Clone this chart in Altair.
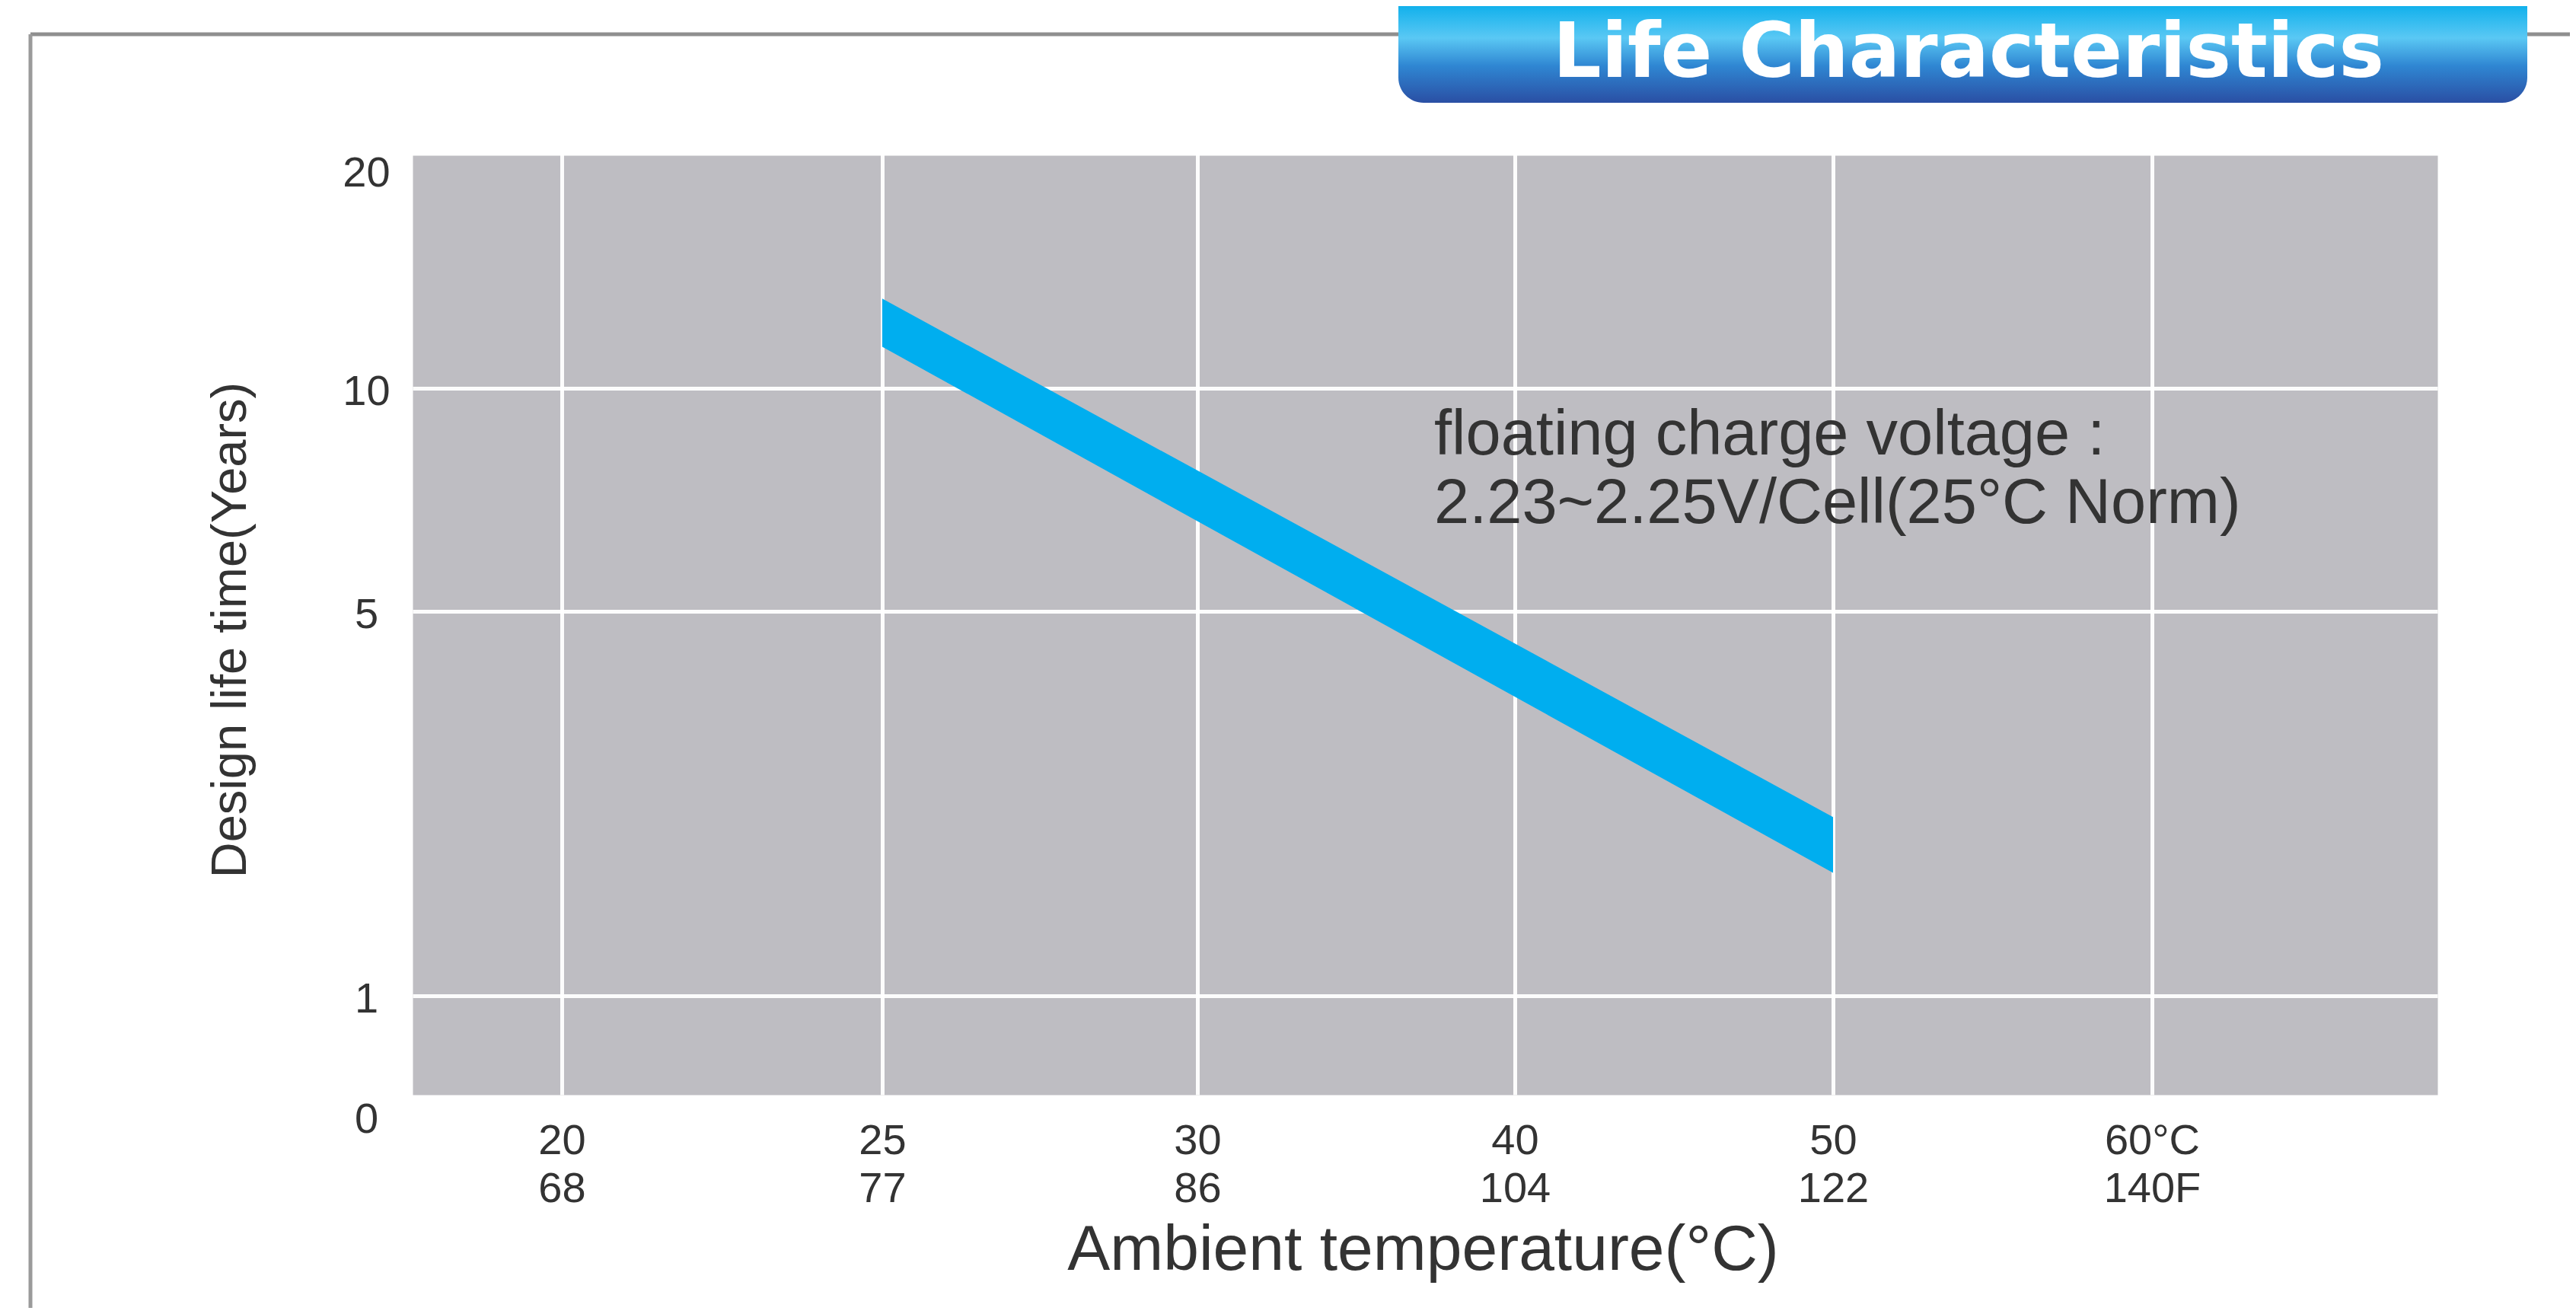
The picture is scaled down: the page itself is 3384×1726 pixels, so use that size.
import altair as alt
import pandas as pd

# ---- data ----
temp_ticks = [20, 25, 30, 40, 50, 60]
temp_c_labels = ["20", "25", "30", "40", "50", "60°C"]
temp_f_labels = ["68", "77", "86", "104", "122", "140F"]
life_ticks = [0, 1, 5, 10, 20]

band_temp = [25, 50]
band_life_high = [14.1, 2.86]
band_life_low = [11.9, 2.28]

note_lines = ["floating charge voltage :", "2.23~2.25V/Cell(25°C Norm)"]
banner_title = "Life Characteristics"

# ---- layout (pixels) ----
W, H = 2660, 1234
# axis extents of the hand-drawn scales (temperature ticks equally spaced, life ticks uneven)
x_domain = [17.67] + temp_ticks + [68.95]
x_range = [0, 196, 617, 1031, 1448, 1866, 2285, W]
y_domain = life_ticks + [20.66]
y_range = [1262, 1104, 599, 306, 19, 0]

band = pd.DataFrame({"temp": band_temp, "high": band_life_high, "low": band_life_low})
one = pd.DataFrame({"k": [0]})

label_expr = " : ".join(
    f"datum.value == {v} ? ['{c}', '{f}']" for v, c, f in zip(temp_ticks, temp_c_labels, temp_f_labels)
) + " : ''"

x_enc = alt.X(
    "temp:Q",
    scale=alt.Scale(domain=x_domain, range=x_range, nice=False, zero=False),
    axis=alt.Axis(
        values=temp_ticks, labelExpr=label_expr, title="Ambient temperature(°C)",
        grid=True, gridColor="#ffffff", gridWidth=5, gridOpacity=0.95,
        ticks=False, tickSize=0, domain=False,
        labelFontSize=56, labelColor="#333333", labelBaseline="top", labelPadding=33,
        labelLineHeight=63, labelAlign="center",
        titleFontSize=84, titleFontWeight="normal", titleColor="#333333",
        titleBaseline="alphabetic", titleY=229, titleX=1327,
    ),
)
y_enc = alt.Y(
    "high:Q",
    scale=alt.Scale(domain=y_domain, range=y_range, nice=False, zero=False),
    axis=alt.Axis(
        values=life_ticks, title="Design life time(Years)",
        grid=True, gridColor="#ffffff", gridWidth=5,
        gridOpacity={"condition": {"test": "datum.value == 0 || datum.value == 20", "value": 0}, "value": 0.95},
        ticks=False, tickSize=0, domain=False,
        labelFontSize=56, labelColor="#333333", labelAlign="center", labelBaseline="middle",
        labelPadding=61, labelOffset=4,
        titleFont="Liberation Sans", titleFontSize=65, titleFontWeight="normal",
        titleColor="#333333", titleBaseline="middle", titleX=-240, titleY=623, titleAngle=270,
    ),
)

band_layer = alt.Chart(band).mark_area(color="#00aeef", opacity=1).encode(
    x=x_enc, y=y_enc, y2="low:Q"
)

note_layer = alt.Chart(one).mark_text(
    align="left", baseline="top", fontSize=83, color="#333333", lineHeight=90
).encode(x=alt.value(1342), y=alt.value(327), text=alt.value(note_lines))

frame_top = alt.Chart(one).mark_rule(color="#8f8f8f", strokeWidth=5).encode(
    x=alt.value(-502), x2=alt.value(2842), y=alt.value(-159)
)
frame_left = alt.Chart(one).mark_rule(color="#9a9a9a", strokeWidth=5).encode(
    x=alt.value(-502), y=alt.value(-159), y2=alt.value(1522)
)

grad = alt.LinearGradient(
    gradient="linear", x1=0, y1=0, x2=0, y2=1,
    stops=[
        alt.GradientStop(color="#12b1ec", offset=0),
        alt.GradientStop(color="#5ac8f4", offset=0.33),
        alt.GradientStop(color="#2f86d2", offset=0.62),
        alt.GradientStop(color="#2a4fa4", offset=1),
    ],
)
banner = alt.Chart(one).mark_rect(
    fill=grad, cornerRadiusBottomLeft=33, cornerRadiusBottomRight=33
).encode(x=alt.value(1295), x2=alt.value(2778), y=alt.value(-196), y2=alt.value(-69))

banner_text = alt.Chart(one).mark_text(
    font="DejaVu Sans", fontWeight="bold", fontSize=100, color="#ffffff",
    align="center", baseline="alphabetic"
).encode(x=alt.value(2044), y=alt.value(-103), text=alt.value(banner_title))

chart = alt.layer(
    band_layer, note_layer, frame_top, frame_left, banner, banner_text
).properties(
    width=W, height=H,
    autosize=alt.AutoSizeParams(type="none"),
    padding={"left": 534, "top": 196, "right": 174, "bottom": 280},
    background="#ffffff",
).configure(
    font="Liberation Sans"
).configure_view(
    fill="#bebdc2", stroke="transparent"
)

chart.save("out.html", embed_options={"renderer": "svg", "actions": False})
